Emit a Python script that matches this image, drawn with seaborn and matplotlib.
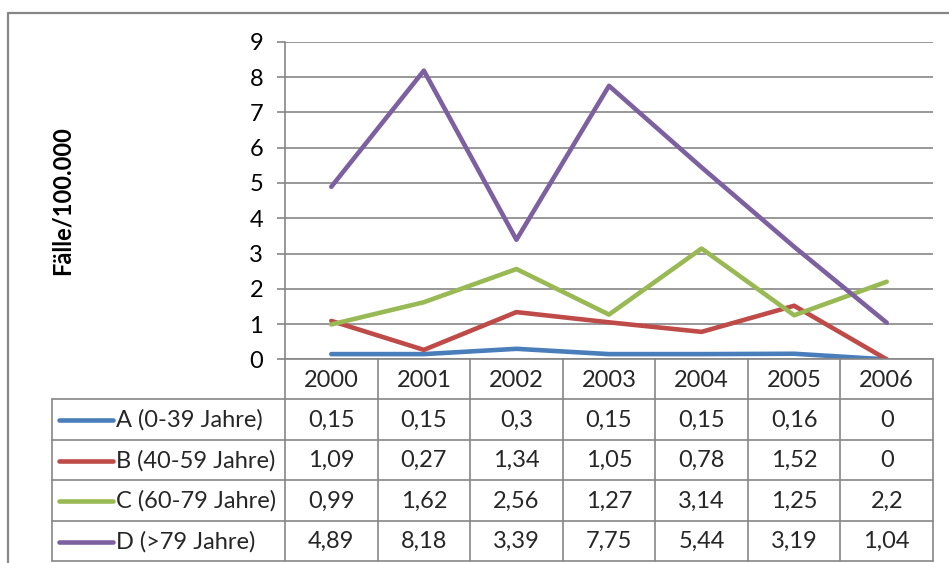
import numpy as np
import pandas as pd
import matplotlib
matplotlib.use("Agg")
import matplotlib.pyplot as plt
from matplotlib.lines import Line2D
import seaborn as sns

# ---- data ----
years = [2000, 2001, 2002, 2003, 2004, 2005, 2006]
series_names = ["A (0-39 Jahre)", "B (40-59 Jahre)", "C (60-79 Jahre)", "D (>79 Jahre)"]
a_vals = [0.15, 0.15, 0.3, 0.15, 0.15, 0.16, 0]
b_vals = [1.09, 0.27, 1.34, 1.05, 0.78, 1.52, 0]
c_vals = [0.99, 1.62, 2.56, 1.27, 3.14, 1.25, 2.2]
d_vals = [4.89, 8.18, 3.39, 7.75, 5.44, 3.19, 1.04]
y_ticks = [0, 1, 2, 3, 4, 5, 6, 7, 8, 9]
y_label = "Fälle/100.000"

colors = ["#4A7EBB", "#BE4B48", "#98B954", "#7D60A0"]
grid_col = "#868686"
fs = 17

sns.set_theme(style="white")
plt.rcParams["font.family"] = ["Lato", "DejaVu Sans"]

W, H = 949, 563
fig = plt.figure(figsize=(W / 100, H / 100), dpi=100)
fig.patch.set_facecolor("white")


def fx(px):
    return px / W


def fy(py):
    return 1 - py / H


x0, x1 = 285, 933
y0, y9 = 359.4, 41.7
ax = fig.add_axes([fx(x0), fy(y0), fx(x1) - fx(x0), fy(y9) - fy(y0)])

all_vals = [a_vals, b_vals, c_vals, d_vals]
rows = []
for name, vals in zip(series_names, all_vals):
    for yr, v in zip(years, vals):
        rows.append({"Jahr": yr, "Wert": v, "Serie": name})
df = pd.DataFrame(rows)

sns.lineplot(data=df, x="Jahr", y="Wert", hue="Serie", hue_order=series_names,
             palette=colors, linewidth=3.3, ax=ax, legend=False, sort=False)

ax.set_xlim(years[0] - 0.5, years[-1] + 0.5)
ax.set_ylim(0, 9)
ax.set_yticks(y_ticks)
ax.set_yticklabels([str(t) for t in y_ticks])
ax.set_xticks([])
ax.set_xlabel("")
ax.set_ylabel("")
ax.yaxis.grid(True, color=grid_col, linewidth=1.2)
ax.xaxis.grid(False)
ax.set_axisbelow(True)
for s in ["top", "right"]:
    ax.spines[s].set_visible(False)
for s in ["left", "bottom"]:
    ax.spines[s].set_visible(True)
    ax.spines[s].set_color(grid_col)
    ax.spines[s].set_linewidth(1.2)
ax.tick_params(axis="y", length=5.8, width=1.2, color=grid_col, pad=10,
               labelsize=fs, labelcolor="black", left=True)
ax.set_facecolor("white")

fig.text(fx(62), fy(201), y_label, rotation=90, fontweight="bold",
         ha="center", va="center", fontsize=fs, color="black")

# ---- data table ----
fig.canvas.draw()
col_w = (x1 - x0) / len(years)
col_edges = [x0 + i * col_w for i in range(len(years) + 1)]
centers = [ax.transData.transform((yr, 0))[0] for yr in years]
tab_left = 52
row_edges = [y0, 399, 439.5, 480, 520.5, 561]
tcol = grid_col
lw_t = 1.2


def hline(xa, xb, y):
    fig.add_artist(Line2D([fx(xa), fx(xb)], [fy(y), fy(y)], color=tcol,
                          linewidth=lw_t, transform=fig.transFigure))


def vline(x, ya, yb):
    fig.add_artist(Line2D([fx(x), fx(x)], [fy(ya), fy(yb)], color=tcol,
                          linewidth=lw_t, transform=fig.transFigure))


for y in row_edges[1:]:
    hline(tab_left, x1, y)
for x in col_edges:
    vline(x, y0, row_edges[-1])
vline(tab_left, row_edges[1], row_edges[-1])

# header
hy = (row_edges[0] + row_edges[1]) / 2 + 1
for cx, yr in zip(centers, years):
    fig.text(fx(cx), fy(hy), str(yr), ha="center", va="center", fontsize=fs)


def fmt(v):
    return f"{v:g}".replace(".", ",")


for i, (name, vals, col) in enumerate(zip(series_names, all_vals, colors)):
    ry = (row_edges[i + 1] + row_edges[i + 2]) / 2 + 1
    fig.add_artist(Line2D([fx(59), fx(113)], [fy(ry), fy(ry)], color=col,
                          linewidth=3.3, solid_capstyle="round",
                          transform=fig.transFigure))
    fig.text(fx(116), fy(ry), name, ha="left", va="center", fontsize=fs)
    for cx, v in zip(centers, vals):
        fig.text(fx(cx), fy(ry), fmt(v), ha="center", va="center", fontsize=fs)

# outer chart frame
fig.add_artist(Line2D([fx(7.5), fx(7.5), fx(W + 5)], [fy(H + 5), fy(12.5), fy(12.5)],
                      color=grid_col, linewidth=1.6, transform=fig.transFigure))

fig.savefig("out.png", dpi=100)
